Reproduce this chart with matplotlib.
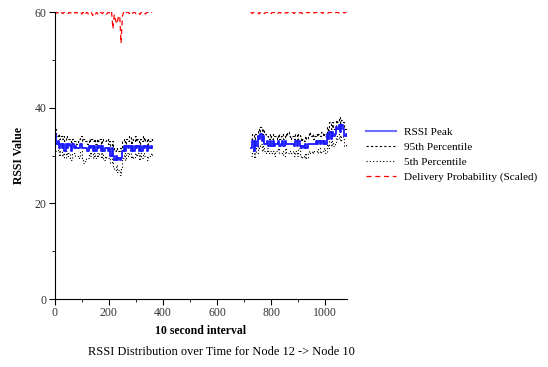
import numpy as np
import matplotlib
matplotlib.use("Agg")
import matplotlib.pyplot as plt
from matplotlib.ticker import MultipleLocator

plt.rcParams['font.family'] = ['Liberation Serif', 'DejaVu Serif']

# 10-second intervals, sampled every 5 intervals, two recording segments
seg1_start = 0
seg2_start = 725
step = 5

seg1_peak = [34.5, 32.5, 33.0, 31.5, 32.5, 31.5, 32.5, 31.0, 32.5, 31.5,
             32.5, 32.0, 31.0, 32.5, 31.5, 32.0, 31.5, 31.5, 31.5, 32.5,
             31.5, 31.5, 31.5, 31.5, 31.0, 32.0, 31.5, 32.0, 31.0, 32.0,
             31.0, 32.0, 31.5, 32.0, 31.0, 32.0, 31.0, 31.5, 31.5, 31.0,
             31.5, 30.0, 31.5, 30.0, 29.0, 30.0, 29.0, 29.5, 29.0, 29.5,
             31.0, 32.0, 31.0, 32.0, 31.5, 32.0, 31.0, 32.0, 31.0, 32.0,
             31.5, 32.0, 31.0, 32.0, 31.0, 32.0, 31.5, 32.0, 31.0, 32.0,
             31.5, 32.0, 31.5]
seg1_p95 = [35.5, 34.0, 34.5, 33.5, 34.0, 33.5, 34.0, 33.0, 34.0, 33.5,
            33.5, 33.0, 32.5, 33.5, 33.0, 33.0, 32.5, 33.0, 33.5, 34.0,
            33.0, 33.5, 33.0, 33.0, 32.5, 33.5, 33.0, 33.5, 33.0, 33.5,
            32.5, 33.5, 33.0, 33.5, 32.5, 33.5, 33.0, 33.0, 33.5, 32.5,
            33.0, 32.0, 33.0, 31.5, 31.0, 31.5, 31.0, 31.0, 31.5, 31.0,
            33.0, 33.5, 32.5, 33.5, 33.0, 34.0, 32.5, 33.5, 33.0, 34.0,
            33.0, 33.5, 32.5, 33.5, 33.0, 34.0, 33.0, 33.5, 32.5, 33.5,
            33.0, 33.5, 33.0]
seg1_p5 = [31.0, 31.0, 31.5, 30.0, 31.0, 30.0, 30.5, 29.5, 31.0, 30.0,
           30.5, 29.0, 29.0, 30.5, 30.5, 30.0, 30.0, 29.5, 30.0, 31.0,
           29.5, 28.5, 29.0, 29.5, 29.5, 30.5, 30.0, 30.5, 29.5, 30.5,
           29.5, 30.5, 30.0, 30.5, 29.5, 30.5, 29.0, 30.0, 29.5, 29.5,
           30.0, 28.5, 29.5, 27.5, 27.0, 28.0, 26.5, 27.0, 26.0, 27.5,
           29.5, 30.5, 29.0, 30.5, 30.0, 30.5, 29.5, 30.0, 29.5, 30.5,
           30.0, 30.5, 29.0, 30.5, 29.5, 30.5, 30.0, 30.0, 29.0, 30.0,
           30.0, 30.5, 30.0]
seg1_delivery = [60.0, 59.8, 60.0, 59.6, 60.0, 59.9, 59.7, 60.0, 59.8, 60.0,
                 59.7, 60.0, 59.8, 59.6, 60.0, 59.8, 60.0, 59.7, 59.9, 60.0,
                 59.6, 60.0, 59.4, 59.8, 60.0, 59.5, 59.8, 60.0, 59.3, 59.9,
                 59.6, 60.0, 59.4, 59.8, 60.0, 59.7, 59.9, 60.0, 59.5, 59.8,
                 60.0, 59.5, 60.0, 56.5, 59.5, 58.2, 57.5, 59.0, 59.3, 53.5,
                 59.2, 60.0, 59.6, 59.9, 60.0, 59.7, 60.0, 59.6, 59.9, 60.0,
                 59.7, 60.0, 59.8, 59.5, 60.0, 59.8, 60.0, 59.6, 59.9, 60.0,
                 59.7, 59.9, 60.0]

seg2_peak = [31.5, 33.0, 31.0, 33.0, 32.0, 34.0, 33.5, 34.5, 33.0, 34.0,
             32.5, 32.5, 33.0, 32.0, 33.0, 32.0, 33.0, 32.0, 32.5, 32.5,
             33.0, 32.0, 32.5, 33.0, 32.0, 33.0, 32.5, 32.5, 32.5, 32.5,
             32.5, 32.5, 32.0, 33.0, 32.0, 33.0, 32.0, 31.5, 32.0, 31.5,
             32.5, 31.5, 32.5, 32.5, 32.5, 32.5, 32.5, 32.5, 33.0, 32.5,
             33.0, 32.5, 33.0, 32.5, 33.0, 32.5, 34.5, 33.5, 35.0, 33.5,
             35.0, 34.0, 34.5, 36.0, 35.5, 36.5, 35.0, 36.5, 35.5, 34.0,
             34.5, 34.0]
seg2_p95 = [33.5, 34.5, 33.0, 34.5, 34.0, 35.5, 35.0, 36.0, 34.5, 35.5,
            34.5, 34.0, 34.0, 33.5, 34.5, 33.5, 34.5, 34.0, 34.0, 33.5,
            34.5, 33.5, 34.0, 34.5, 33.5, 34.5, 34.0, 35.0, 34.0, 33.5,
            34.0, 34.0, 33.5, 34.5, 33.5, 34.5, 34.0, 33.0, 33.5, 33.0,
            34.0, 33.5, 34.0, 35.0, 34.0, 34.5, 33.5, 34.0, 34.5, 34.0,
            34.5, 34.0, 35.0, 34.0, 34.5, 34.0, 36.0, 35.0, 37.0, 35.5,
            37.0, 35.5, 36.0, 37.5, 37.0, 38.0, 36.5, 37.5, 37.0, 35.5,
            36.0, 35.5]
seg2_p5 = [30.0, 31.0, 29.5, 31.5, 30.5, 32.0, 31.5, 32.5, 31.0, 32.0,
           31.0, 30.5, 31.5, 30.5, 31.0, 30.5, 31.0, 30.0, 31.0, 31.0,
           31.5, 30.5, 30.5, 31.0, 30.0, 31.5, 30.5, 30.5, 30.5, 31.0,
           30.5, 31.0, 30.0, 31.0, 30.0, 31.5, 30.0, 29.5, 30.0, 29.5,
           30.5, 29.5, 30.5, 31.0, 30.5, 31.0, 30.5, 31.0, 31.0, 30.5,
           31.5, 30.5, 31.0, 31.0, 31.5, 30.5, 32.5, 31.5, 33.0, 32.0,
           33.0, 32.0, 32.5, 34.0, 33.5, 34.5, 33.0, 34.0, 33.5, 32.0,
           32.5, 32.0]
seg2_delivery = [60.0, 59.7, 60.0, 59.8, 59.9, 60.0, 59.6, 60.0, 59.8, 60.0,
                 59.7, 59.9, 60.0, 59.8, 60.0, 59.7, 60.0, 59.9, 59.8, 60.0,
                 59.7, 60.0, 59.8, 60.0, 59.9, 59.7, 60.0, 59.8, 60.0, 59.9,
                 59.8, 60.0, 59.7, 60.0, 59.9, 60.0, 59.8, 60.0, 59.7, 60.0,
                 59.9, 60.0, 59.8, 60.0, 59.9, 59.7, 60.0, 59.8, 60.0, 59.9,
                 60.0, 59.8, 60.0, 59.7, 60.0, 59.9, 60.0, 59.8, 60.0, 59.9,
                 60.0, 59.8, 60.0, 59.9, 60.0, 59.8, 60.0, 59.9, 60.0, 59.8,
                 60.0, 60.0]

x_ticks = [0, 200, 400, 600, 800, 1000]
y_ticks = [0, 20, 40, 60]

fig = plt.figure(figsize=(5.48, 3.67), dpi=100)
ax = fig.add_axes([0.1, 0.185, 0.533, 0.782])

blue = '#1a1aff'
for start, peak, p95, p5, dlv in [
        (seg1_start, seg1_peak, seg1_p95, seg1_p5, seg1_delivery),
        (seg2_start, seg2_peak, seg2_p95, seg2_p5, seg2_delivery)]:
    x = start + step * np.arange(len(peak))
    ax.step(x, p95, where='post', color='black', lw=0.8, ls=(0, (2, 2)))
    ax.step(x, p5, where='post', color='black', lw=0.8, ls=(0, (1, 2)))
    ax.step(x, peak, where='post', color=blue, lw=1.3)
    ax.plot(x, dlv, color='red', lw=0.9, ls=(0, (4, 3)))

ax.set_xlim(0, 1080)
ax.set_ylim(0, 60)
ax.set_xticks(x_ticks)
ax.set_yticks(y_ticks)
ax.xaxis.set_minor_locator(MultipleLocator(100))
ax.yaxis.set_minor_locator(MultipleLocator(10))
ax.tick_params(which='major', direction='out', length=4, width=0.8,
               labelsize=8.5, pad=2, labelcolor='#333333')
ax.tick_params(which='minor', direction='out', length=2, width=0.6)
ax.spines['top'].set_visible(False)
ax.spines['right'].set_visible(False)
ax.set_xlabel('10 second interval', fontsize=8.5, fontweight='bold', labelpad=4)
ax.set_ylabel('RSSI Value', fontsize=8.5, fontweight='bold', labelpad=7)

# legend drawn outside the axes on the right
handles = [
    plt.Line2D([], [], color='#6f6fff', lw=1.5),
    plt.Line2D([], [], color='black', lw=0.8, ls=(0, (2, 2))),
    plt.Line2D([], [], color='black', lw=0.8, ls=(0, (1, 2))),
    plt.Line2D([], [], color='red', lw=0.9, ls=(0, (4, 3))),
]
labels = ['RSSI Peak', '95th Percentile', '5th Percentile',
          'Delivery Probability (Scaled)']
fig.legend(handles, labels, loc='upper left', bbox_to_anchor=(0.657, 0.668),
           frameon=False, fontsize=8.1, handlelength=2.7, handletextpad=0.7,
           labelspacing=0.44, borderpad=0)

fig.text(0.16, 0.04, 'RSSI Distribution over Time for Node 12 -> Node 10',
         fontsize=8.9, ha='left', va='center')

fig.savefig('out.png', dpi=100)
